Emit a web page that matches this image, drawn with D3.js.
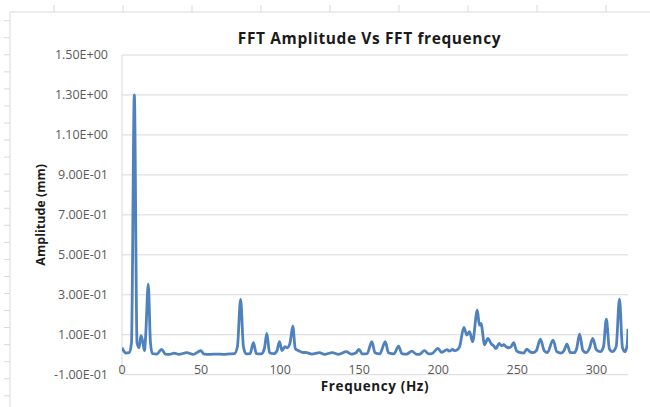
<!DOCTYPE html>
<html>
<head>
<meta charset="utf-8">
<script src="https://cdn.jsdelivr.net/npm/d3@7"></script>
<style>
  body { margin: 0; background: #fff; }
  svg text { font-family: "Open Sans", Lato, sans-serif; }
  .tick { fill: #595959; font-size: 12.5px; }
  .axisTitle { fill: #1a1a1a; font-size: 13.5px; font-weight: bold; }
</style>
</head>
<body>
<div id="chart"></div>
<script>
// frequency (Hz) of each read-off point
var freqs = [0, 1, 2.5, 4.5, 6, 7.8, 9.5, 10.8, 12, 13, 14.2, 15, 16.6, 18, 19.2,
  22, 25, 27.5, 30, 33, 36, 41, 45, 49.8, 52, 56, 60, 64, 68, 71, 73, 75, 76.8, 78.5,
  81, 83.1, 85, 88, 90, 91.6, 93.3, 96, 98, 99.6, 101.2, 103, 104.5, 106.3, 108, 109.6,
  111.6, 114, 117, 120, 124.9, 128, 133, 137, 141.8, 145, 148, 149.8, 152, 155, 158,
  160, 163, 166.5, 168.5, 172, 174.9, 177, 180, 183.3, 186, 188, 191.3, 194, 196,
  199.8, 202, 205.5, 207, 209, 210.5, 212, 213.5, 216.2, 218.1, 219.8, 221.7, 224.7,
  226, 227, 229.3, 231.4, 233.5, 235, 236.5, 238.5, 240, 241.5, 243, 244.5, 246,
  247.7, 249.5, 252, 254, 256, 258, 260, 262, 264.6, 267, 269, 272.6, 275, 277.5,
  279.5, 281.4, 283.5, 286, 287.5, 289.4, 291.5, 293.5, 295.5, 297.7, 300, 302.5,
  304.5, 306.3, 308.2, 310, 312.5, 314.6, 316.5, 318, 319.5, 320];

// FFT amplitude (mm) at each frequency above
var amps = [0.035, 0.02, 0.008, 0.01, 0.06, 1.30, 0.06, 0.035, 0.095, 0.07, 0.02, 0.1, 0.353, 0.06, 0.005,
  0.003, 0.027, 0.003, 0.002, 0.008, 0.002, 0.01, 0.002, 0.02, 0.003, 0.002, 0.003, 0.002, 0.004, 0.005, 0.04, 0.277, 0.04, 0.004,
  0.005, 0.06, 0.005, 0.004, 0.03, 0.107, 0.01, 0.005, 0.02, 0.065, 0.02, 0.04, 0.035, 0.06, 0.143, 0.03,
  0.02, 0.012, 0.01, 0.003, 0.01, 0.002, 0.01, 0.002, 0.015, 0.003, 0.01, 0.027, 0.004, 0.005, 0.065,
  0.01, 0.004, 0.065, 0.01, 0.004, 0.043, 0.006, 0.003, 0.018, 0.003, 0.002, 0.02, 0.004, 0.005,
  0.032, 0.012, 0.025, 0.018, 0.026, 0.02, 0.025, 0.04, 0.137, 0.098, 0.115, 0.065, 0.223,
  0.148, 0.157, 0.05, 0.082, 0.055, 0.045, 0.03, 0.057, 0.045, 0.05, 0.04, 0.035, 0.04,
  0.06, 0.02, 0.01, 0.008, 0.028, 0.015, 0.01, 0.02, 0.078, 0.02, 0.01, 0.073, 0.015, 0.008,
  0.02, 0.053, 0.01, 0.01, 0.03, 0.103, 0.02, 0.01, 0.03, 0.082, 0.025, 0.015,
  0.04, 0.178, 0.03, 0.015, 0.04, 0.278, 0.035, 0.015, 0.05, 0.13];

var yTicks = [-0.1, 0.1, 0.3, 0.5, 0.7, 0.9, 1.1, 1.3, 1.5];
var xTicks = [0, 50, 100, 150, 200, 250, 300];

var width = 650, height = 407;
var margin = {top: 55, right: 22, bottom: 32.3, left: 122};

var svg = d3.select("#chart").append("svg")
  .attr("width", width)
  .attr("height", height);

// spreadsheet frame behind the chart
var frame = svg.append("g").attr("class", "frame");
frame.append("line")
  .attr("x1", 10).attr("x2", 10).attr("y1", 12).attr("y2", height)
  .attr("stroke", "#d9d9d9");
frame.append("line")
  .attr("x1", 10).attr("x2", width).attr("y1", 12).attr("y2", 12)
  .attr("stroke", "#d9d9d9");
frame.selectAll("line.rowTick")
  .data(d3.range(20.7, height, 17.05)).enter()
  .append("line")
    .attr("class", "rowTick")
    .attr("x1", 4).attr("x2", 10)
    .attr("y1", function(d){return d;}).attr("y2", function(d){return d;})
    .attr("stroke", "#d9d9d9");
frame.selectAll("line.colTick")
  .data(d3.range(54, width, 69)).enter()
  .append("line")
    .attr("class", "colTick")
    .attr("x1", function(d){return d;}).attr("x2", function(d){return d;})
    .attr("y1", 5).attr("y2", 12)
    .attr("stroke", "#d9d9d9");

var x = d3.scaleLinear()
  .domain([0, 320])
  .range([margin.left, width - margin.right]);

var y = d3.scaleLinear()
  .domain([-0.1, 1.5])
  .range([height - margin.bottom, margin.top]);

function sciFormat(v){
  var s = v.toExponential(2).split("e");
  var ex = parseInt(s[1], 10);
  var sign = ex < 0 ? "-" : "+";
  var digits = Math.abs(ex) < 10 ? "0" + Math.abs(ex) : "" + Math.abs(ex);
  return s[0] + "E" + sign + digits;
}

// gridlines
svg.append("g")
  .selectAll("line")
  .data(yTicks).enter()
  .append("line")
    .attr("x1", x(0)).attr("x2", x(320))
    .attr("y1", function(d){return y(d);}).attr("y2", function(d){return y(d);})
    .attr("stroke", "#d9d9d9")
    .attr("stroke-width", 1);

// vertical axis line
svg.append("line")
  .attr("x1", x(0)).attr("x2", x(0))
  .attr("y1", y(1.5)).attr("y2", y(-0.1))
  .attr("stroke", "#d9d9d9");

// y tick labels
svg.append("g")
  .selectAll("text")
  .data(yTicks).enter()
  .append("text")
    .attr("class", "tick")
    .attr("x", 108)
    .attr("y", function(d){return y(d);})
    .attr("dy", "0.35em")
    .attr("text-anchor", "end")
    .text(sciFormat);

// x tick labels
svg.append("g")
  .selectAll("text")
  .data(xTicks).enter()
  .append("text")
    .attr("class", "tick")
    .attr("x", function(d){return x(d);})
    .attr("y", 374)
    .attr("text-anchor", "middle")
    .text(function(d){return d;});

// the spectrum
var points = freqs.map(function(f, i){return [f, amps[i]];});

var clip = svg.append("clipPath").attr("id", "plotClip")
  .append("rect")
    .attr("x", x(0)).attr("y", 0)
    .attr("width", x(320) - x(0)).attr("height", height);

var line = d3.line()
  .x(function(d){return x(d[0]);})
  .y(function(d){return y(d[1]);})
  .curve(d3.curveMonotoneX);

svg.append("path")
  .datum(points)
  .attr("clip-path", "url(#plotClip)")
  .attr("fill", "none")
  .attr("stroke", "#4f81bd")
  .attr("stroke-width", 2.8)
  .attr("stroke-linejoin", "round")
  .attr("d", line);

// titles
svg.append("text")
  .attr("x", 369.5)
  .attr("y", 44)
  .attr("text-anchor", "middle")
  .style("font-size", "15.5px")
  .style("letter-spacing", "0.6px")
  .style("font-weight", "bold")
  .style("fill", "#1a1a1a")
  .text("FFT Amplitude Vs FFT frequency");

svg.append("text")
  .attr("class", "axisTitle")
  .attr("x", (x(0) + x(320)) / 2)
  .attr("y", 391)
  .attr("text-anchor", "middle")
  .style("letter-spacing", "0.6px")
  .text("Frequency (Hz)");

svg.append("text")
  .attr("class", "axisTitle")
  .attr("transform", "translate(45," + ((y(1.5) + y(-0.1)) / 2) + ") rotate(-90)")
  .attr("text-anchor", "middle")
  .style("font-size", "12.5px")
  .text("Amplitude (mm)");
</script>
</body>
</html>
